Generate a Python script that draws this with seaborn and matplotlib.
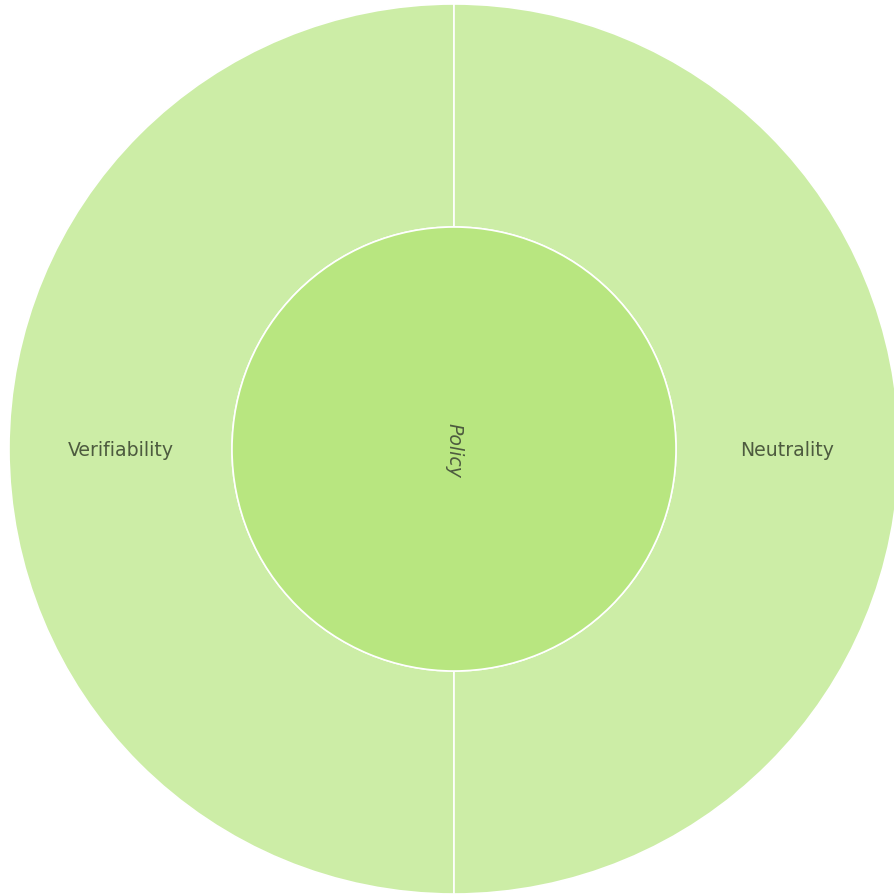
import matplotlib
matplotlib.use("Agg")
import matplotlib.pyplot as plt
import seaborn as sns

sns.set_theme(style="white")
plt.rcParams['font.family'] = ['DejaVu Sans']

inner_labels = ["Policy"]
inner_values = [2]
outer_labels = ["Verifiability", "Neutrality"]
outer_values = [1, 1]

inner_color = "#b8e680"
outer_color = "#cceda6"
text_color = "#4d5b3f"

fig = plt.figure(figsize=(8.94, 8.95), dpi=100)
fig.patch.set_facecolor("white")
ax = fig.add_axes([0, 0, 1, 1])
ax.set_xlim(0, 894)
ax.set_ylim(0, 895)
ax.set_aspect("equal")
ax.axis("off")

cx, cy = 454, 445
R_out, R_in = 445, 222

ax.pie(outer_values, radius=R_out, center=(cx, cy), startangle=90, counterclock=True,
       colors=[outer_color] * len(outer_values),
       wedgeprops=dict(width=R_out - R_in, edgecolor="white", linewidth=1.2))
ax.pie(inner_values, radius=R_in, center=(cx, cy), startangle=90,
       colors=[inner_color],
       wedgeprops=dict(edgecolor="white", linewidth=1.2))
ax.set_xlim(0, 894)
ax.set_ylim(0, 895)

mid = (R_out + R_in) / 2
fs = 13.6
ax.text(cx - mid, cy, outer_labels[0], ha="center", va="center", fontsize=fs, color=text_color)
ax.text(cx + mid, cy, outer_labels[1], ha="center", va="center", fontsize=fs, color=text_color)
ax.text(cx, cy, inner_labels[0], ha="center", va="center", fontsize=fs, color=text_color,
        rotation=-90, style="italic")

fig.savefig("out.png", dpi=100)
